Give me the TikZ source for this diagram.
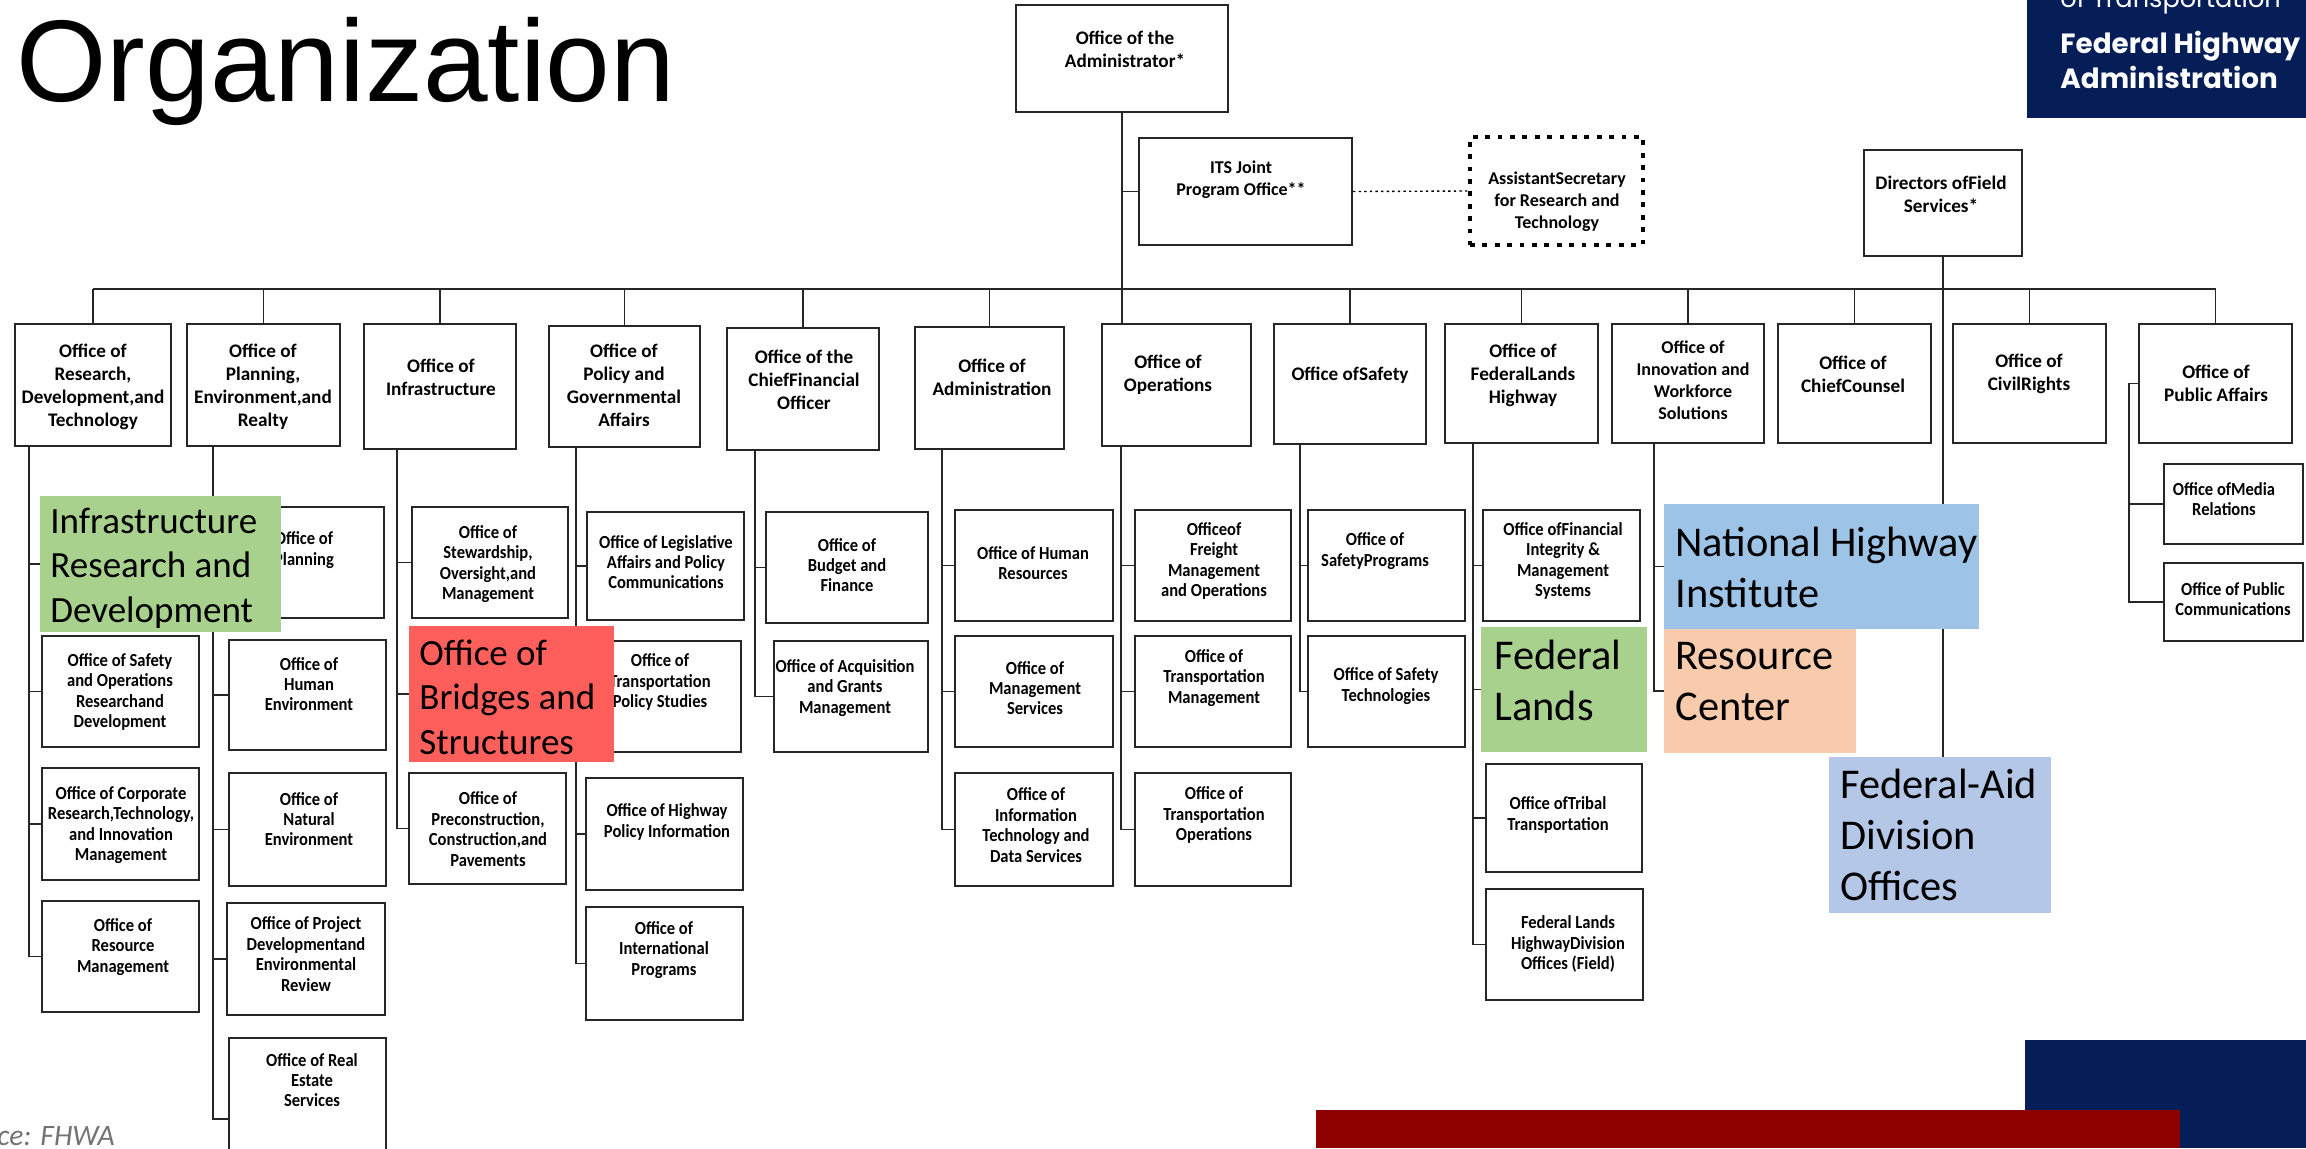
\documentclass[tikz,border=0pt]{standalone}
\usepackage{fontspec}
\setmainfont{Liberation Sans}
\newfontfamily\boxfont{Carlito}
\newfontfamily\subfont[FakeStretch=0.9]{Carlito}
\newfontfamily\callout{Carlito}
\newfontfamily\logofont{Poppins}
\usetikzlibrary{fit,backgrounds}
\definecolor{navy}{HTML}{051E57}
\definecolor{darkred}{HTML}{8C0000}
\definecolor{irdgreen}{HTML}{A9D18E}
\definecolor{fedgreen}{HTML}{A9D18E}
\definecolor{bridgered}{HTML}{FF5F5B}
\definecolor{nhiblue}{HTML}{9DC3E6}
\definecolor{rcorange}{HTML}{F8CBAD}
\definecolor{aidblue}{HTML}{B4C7E7}
\tikzset{
 office/.style={draw=black!85,line width=1pt,fill=white,inner sep=0pt},
 officetext/.style={align=center,inner sep=0pt,font=\boxfont\bfseries\fontsize{9.6}{11.5}\selectfont},
 midtext/.style={align=center,inner sep=0pt,font=\boxfont\bfseries\fontsize{9}{11}\selectfont},
 subtext/.style={align=center,inner sep=0pt,font=\subfont\bfseries\fontsize{9.2}{10.2}\selectfont},
 conn/.style={draw=black!85,line width=0.8pt},
 dotconn/.style={draw=black,line width=0.7pt,dash pattern=on 1.2pt off 1.6pt},
 dotbox/.style={draw=black,line width=2pt,dash pattern=on 2.4pt off 3.8pt,fill=white,inner sep=0pt},
 smallcall/.style={align=left,anchor=west,inner sep=0pt,font=\callout\fontsize{18.5}{22.3}\selectfont},
 bigcall/.style={align=left,anchor=west,inner sep=0pt,font=\callout\fontsize{21.2}{25.5}\selectfont},
 band/.style={fill=#1,draw=none,inner sep=0pt},
}
\newcommand\bx[9][officetext]{%
 \node[office,fit={(#3,#4)(#5,#6)}] (#2) {};
 \node[#1] (#2-t) at (#7,#8) {#9};
}
\newcommand\spine[3]{%
 \coordinate (sp) at (#2,0);
 \foreach \c in {#3} {\draw[conn] (#1.south -| sp) |- (\c.west);}
}
\begin{document}
\begin{tikzpicture}[x=0.5pt,y=-0.5pt]
\useasboundingbox (0,0) rectangle (2306,1148);
\clip (0,0) rectangle (2306,1148);
\node[anchor=base west,inner sep=0pt,font=\fontsize{58.1}{60}\selectfont] (title) at (16,101) {Organization};
\node[anchor=base east,inner sep=0pt,text=black!55,font=\itshape\callout\fontsize{14.8}{18}\selectfont] (source) at (115,1145) {ce: FHWA};

% top row
\bx{adm}{1016}{5}{1228}{112}{1125}{49}{Office of the\\Administrator*}
\bx[midtext]{its}{1139}{138}{1352}{245}{1241}{180}{ITS Joint\\Program Office**}
\node[dotbox,fit={(1470,137)(1643,245)}] (asst) {};
\node[midtext] (asst-t) at (1557,202) {AssistantSecretary\\for Research and\\Technology};
\bx{dir}{1864}{150}{2022}{256}{1941}{194}{Directors ofField\\Services*}

\bx{res}{15}{324}{171}{446}{93}{387}{Office of\\Research,\\Development,and\\Technology}
\bx{pla}{187}{324}{340}{446}{263}{387}{Office of\\Planning,\\Environment,and\\Realty}
\bx{inf}{364}{324}{516}{449}{441}{377}{Office of\\Infrastructure}
\bx{pol}{549}{326}{700}{447}{624}{385}{Office of\\Policy and\\Governmental\\Affairs}
\bx{cfo}{727}{328}{879}{450}{804}{380}{Office of the\\ChiefFinancial\\Officer}
\bx{ada}{915}{327}{1064}{449}{992}{377}{Office of\\Administration}
\bx{ope}{1102}{324}{1251}{446}{1168}{375}{Office of\\Operations}
\bx{saf}{1274}{324}{1426}{444}{1350}{375}{Office ofSafety}
\bx{fla}{1445}{324}{1598}{443}{1523}{375}{Office of\\FederalLands\\Highway}
\bx[midtext]{inn}{1612}{324}{1764}{443}{1693}{380}{Office of\\Innovation and\\Workforce\\Solutions}
\bx{coc}{1778}{324}{1931}{443}{1853}{374}{Office of\\ChiefCounsel}
\bx{civ}{1953}{324}{2106}{443}{2029}{374}{Office of\\CivilRights}
\bx{pub}{2139}{324}{2292}{443}{2216}{383}{Office of\\Public Affairs}

% column 1
\bx[subtext]{sor}{42}{636}{199}{747}{120}{692}{Office of Safety\\and Operations\\Researchand\\Development}
\bx[subtext]{cor}{42}{768}{199}{880}{121}{825}{Office of Corporate\\Research,Technology,\\and Innovation\\Management}
\bx[subtext]{rem}{42}{901}{199}{1012}{123}{947}{Office of\\Resource\\Management}
% column 2
\bx[subtext]{pln}{228}{507}{384}{618}{304}{550}{Office of\\Planning}
\bx[subtext]{hue}{229}{640}{386}{750}{309}{684}{Office of\\Human\\Environment}
\bx[subtext]{nae}{229}{773}{386}{886}{309}{819}{Office of\\Natural\\Environment}
\bx[subtext]{pde}{227}{903}{385}{1015}{306}{954}{Office of Project\\Developmentand\\Environmental\\Review}
\bx[subtext]{rea}{229}{1038}{386}{1200}{312}{1080}{Office of Real\\Estate\\Services}
% column 3
\bx[subtext]{ste}{412}{507}{568}{618}{488}{564}{Office of\\Stewardship,\\Oversight,and\\Management}
\bx[subtext]{pre}{409}{773}{566}{884}{488}{829}{Office of\\Preconstruction,\\Construction,and\\Pavements}
% column 4
\bx[subtext]{leg}{587}{512}{744}{620}{666}{562}{Office of Legislative\\Affairs and Policy\\Communications}
\bx[subtext]{tps}{587}{641}{741}{752}{660}{682}{Office of\\Transportation\\Policy Studies}
\bx[subtext]{hpi}{586}{778}{743}{890}{667}{822}{Office of Highway\\Policy Information}
\bx[subtext]{int}{586}{907}{743}{1020}{664}{950}{Office of\\International\\Programs}
% column 5
\bx[subtext]{bud}{766}{512}{928}{623}{847}{565}{Office of\\Budget and\\Finance}
\bx[subtext]{acq}{774}{641}{928}{752}{845}{688}{Office of Acquisition\\and Grants\\Management}
% column 6
\bx[subtext]{hur}{955}{510}{1113}{621}{1033}{563}{Office of Human\\Resources}
\bx[subtext]{mgs}{955}{636}{1113}{747}{1035}{688}{Office of\\Management\\Services}
\bx[subtext]{itd}{955}{773}{1113}{886}{1036}{825}{Office of\\Information\\Technology and\\Data Services}
% column 7
\bx[subtext]{fre}{1135}{510}{1291}{621}{1214}{561}{Officeof\\Freight\\Management\\and Operations}
\bx[subtext]{trm}{1135}{636}{1291}{747}{1214}{678}{Office of\\Transportation\\Management}
\bx[subtext]{tro}{1135}{773}{1291}{886}{1214}{815}{Office of\\Transportation\\Operations}
% column 8
\bx[subtext]{spr}{1308}{510}{1465}{621}{1375}{551}{Office of\\SafetyPrograms}
\bx[subtext]{stt}{1308}{636}{1465}{747}{1386}{686}{Office of Safety\\Technologies}
% column 9
\bx[subtext]{fin}{1483}{510}{1640}{621}{1563}{561}{Office ofFinancial\\Integrity \&\\Management\\Systems}
\bx[subtext]{tri}{1486}{764}{1642}{872}{1558}{815}{Office ofTribal\\Transportation}
\bx[subtext]{fld}{1486}{889}{1643}{1000}{1568}{944}{Federal Lands\\HighwayDivision\\Offices (Field)}
% public affairs
\bx[subtext]{med}{2164}{464}{2303}{544}{2224}{499}{Office ofMedia\\Relations}
\bx[subtext]{com}{2164}{563}{2303}{641}{2233}{599}{Office of Public\\Communications}

% callout boxes
\node[band=irdgreen,fit={(40,496)(281,632)}] (ird) {};
\node[band=bridgered,fit={(409,626)(614,762)}] (bri) {};
\node[band=fedgreen,fit={(1481,627)(1647,752)}] (fed) {};
\node[band=nhiblue,fit={(1664,504)(1979,629)}] (nhi) {};
\node[band=rcorange,fit={(1664,629)(1856,753)}] (rce) {};
\node[band=aidblue,fit={(1829,757)(2051,913)}] (aid) {};
\node[smallcall] (ird-t) at (50,568) {Infrastructure\\Research and\\Development};
\node[smallcall] (bri-t) at (419,697) {Office of\\Bridges and\\Structures};
\node[bigcall] (fed-t) at (1494,680) {Federal\\Lands};
\node[bigcall] (nhi-t) at (1675,567) {National Highway\\Institute};
\node[bigcall] (rce-t) at (1675,682) {Resource\\Center};
\node[bigcall] (aid-t) at (1840,835) {Federal-Aid\\Division\\Offices};

% connectors, below everything else
\begin{scope}[on background layer]
\coordinate (bus) at (0,289);
\draw[conn] (res.north |- bus) -- (pub.north |- bus);
\foreach \b in {res,pla,inf,pol,cfo,ada,saf,fla,inn,coc,civ,pub} {\draw[conn] (\b.north) -- (\b.north |- bus);}
\draw[conn] (adm.south) -- (adm.south |- ope.north);
\draw[conn] (adm.south |- its.west) -- (its.west);
\draw[dotconn] (its.east) -- (asst.west);
\draw[conn] (dir.south) -- (dir.south |- aid.north);
\spine{res}{29}{ird,sor,cor,rem}
\spine{pla}{213}{pln,hue,nae,pde,rea}
\spine{inf}{397}{ste,bri,pre}
\spine{pol}{576}{leg,tps,hpi,int}
\spine{cfo}{755}{bud,acq}
\spine{ada}{942}{hur,mgs,itd}
\spine{ope}{1121}{fre,trm,tro}
\spine{saf}{1300}{spr,stt}
\spine{fla}{1473}{fin,fed,tri,fld}
\spine{inn}{1654}{nhi,rce}
\coordinate (pasp) at (2129,0);
\draw[conn] (pub.west) -- (pub.west -| pasp) |- (med.west);
\draw[conn] (pub.west -| pasp) |- (com.west);
\end{scope}

% logo and footer bands
\node[band=navy,fit={(2027,0)(2306,118)}] (logo) {};
\node[anchor=base west,inner sep=0pt,text=white,font=\logofont\fontsize{12.8}{14}\selectfont] (dept) at (2060,7) {of Transportation};
\node[anchor=north west,align=left,inner sep=0pt,text=white,font=\logofont\bfseries\fontsize{13.9}{17.5}\selectfont] (fhwa) at (2060,31) {Federal Highway\\Administration};
\node[band=navy,fit={(2025,1040)(2306,1148)}] (footnavy) {};
\node[band=darkred,fit={(1316,1110)(2180,1148)}] (footred) {};
\end{tikzpicture}
\end{document}
